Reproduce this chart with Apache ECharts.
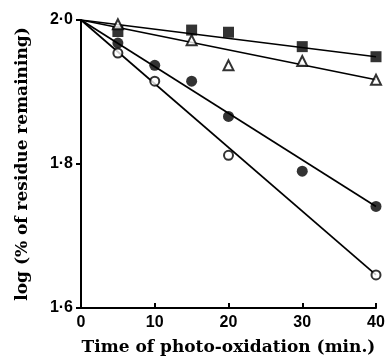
<!DOCTYPE html>
<html><head><meta charset="utf-8">
<script src="https://cdn.jsdelivr.net/npm/echarts@6/dist/echarts.min.js"></script>
<style>html,body{margin:0;padding:0;background:#fff}#c{width:386px;height:361px}</style>
</head><body><div id="c"></div>
<script>
var squareX = [5, 15, 20, 30, 40];
var squareY = [1.984, 1.986, 1.983, 1.963, 1.949];
var triX = [5, 15, 20, 30, 40];
var triY = [1.994, 1.972, 1.937, 1.943, 1.917];
var dotX = [5, 10, 15, 20, 30, 40];
var dotY = [1.968, 1.937, 1.915, 1.866, 1.790, 1.741];
var ringX = [5, 10, 20, 40];
var ringY = [1.954, 1.915, 1.812, 1.646];
var fitX = [0, 40];
var squareFit = [2.0, 1.949];
var triFit = [2.0, 1.917];
var dotFit = [2.0, 1.741];
var ringFit = [2.0, 1.646];

function pairs(xs, ys){ return xs.map(function(x,i){return [x, ys[i]];}); }
function fitLine(ys){
  return {type:'line', data:pairs(fitX, ys), symbol:'none', silent:true, z:1,
    lineStyle:{color:'#000', width:1.7}};
}
var font = '"DejaVu Serif", "Liberation Serif", serif';
var lblFont = '"Liberation Sans", Arial, sans-serif';
var chart = echarts.init(document.getElementById('c'));
chart.setOption({
  animation:false,
  grid:{left:81, right:10, top:20, bottom:53, containLabel:false, outerBoundsMode:'none'},
  xAxis:{type:'value', min:0, max:40, interval:10,
    name:'Time of photo-oxidation (min.)', nameLocation:'middle', nameGap:31,
    nameTextStyle:{fontFamily:font, fontWeight:'bold', fontSize:17, color:'#000'},
    axisLine:{lineStyle:{color:'#000', width:2}},
    axisTick:{inside:true, length:5, lineStyle:{color:'#000', width:2}},
    axisLabel:{fontFamily:lblFont, fontWeight:'bold', fontSize:16, color:'#000', margin:7},
    splitLine:{show:false}},
  yAxis:{type:'value', min:1.6, max:2.0, interval:0.2,
    name:'log (% of residue remaining)', nameLocation:'middle', nameGap:50,
    nameTextStyle:{fontFamily:font, fontWeight:'bold', fontSize:17, color:'#000'},
    axisLine:{show:true, lineStyle:{color:'#000', width:2}},
    axisTick:{show:true, length:5, lineStyle:{color:'#000', width:2}},
    axisLabel:{fontFamily:lblFont, fontWeight:'bold', fontSize:16, color:'#000', margin:8,
      formatter:function(v){return v.toFixed(1).replace('.', '\u00b7');}},
    splitLine:{show:false}},
  series:[
    fitLine(squareFit), fitLine(triFit), fitLine(dotFit), fitLine(ringFit),
    {type:'scatter', data:pairs(squareX, squareY), symbol:'rect', symbolSize:11, z:3,
      itemStyle:{color:'#000'}},
    {type:'scatter', data:pairs(triX, triY), symbol:'triangle', symbolSize:10, z:3,
      itemStyle:{color:'#fff', borderColor:'#000', borderWidth:2}},
    {type:'scatter', data:pairs(dotX, dotY), symbol:'circle', symbolSize:11, z:3,
      itemStyle:{color:'#000'}},
    {type:'scatter', data:pairs(ringX, ringY), symbol:'circle', symbolSize:9, z:3,
      itemStyle:{color:'#fff', borderColor:'#000', borderWidth:2}}
  ]
});
</script></body></html>
